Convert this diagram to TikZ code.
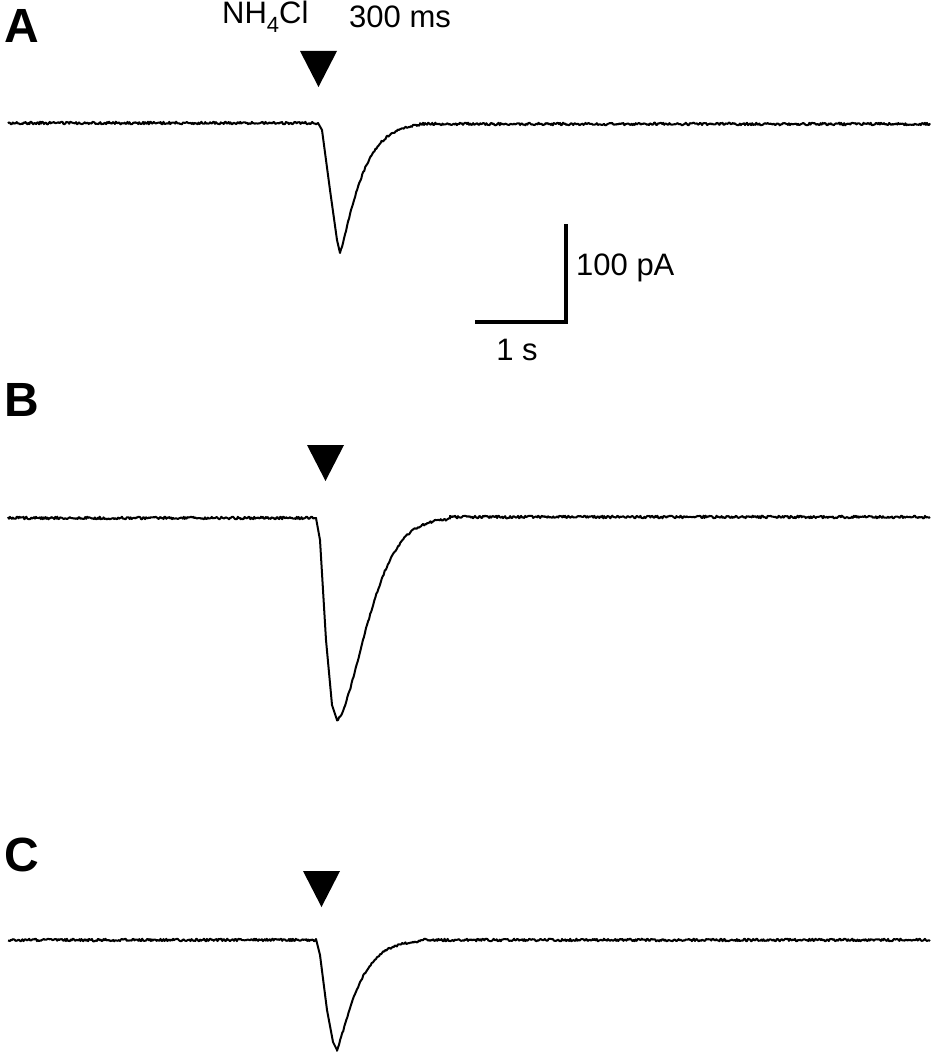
\documentclass[tikz,border=0pt]{standalone}
\usepackage{fontspec}
\setmainfont{Liberation Sans}
\begin{document}
\begin{tikzpicture}[x=1pt,y=-1pt,
  trace/.style={line width=2pt,line join=round},
  lab/.style={font=\bfseries\fontsize{48}{48}\selectfont,anchor=west,inner sep=0},
  txt/.style={font=\fontsize{31}{31}\selectfont,inner sep=0},
  tri/.style={fill=black}]
\useasboundingbox (0,0) rectangle (935,1057);
\pgfmathsetseed{7}
% Trace A
\draw[trace] plot[domain=8:318,samples=320] (\x,{123+1.3*rand})
  -- (322,130) -- (330,190) -- (337,240) -- (340,253)
  -- plot[domain=340:420,samples=80] (\x,{123+130*exp(-((\x-340)/24)^1.2)+1*rand})
  -- plot[domain=420:930,samples=500] (\x,{124+1.3*rand});
% Trace B
\draw[trace] plot[domain=8:316,samples=320] (\x,{518+1.3*rand})
  -- (320,540) -- (326,640) -- (332,705) -- (337,720)
  -- plot[domain=337:450,samples=110] (\x,{518+202*exp(-((\x-337)/40)^1.6)+1.2*rand})
  -- plot[domain=450:930,samples=480] (\x,{517+1.3*rand});
% Trace C
\draw[trace] plot[domain=8:316,samples=320] (\x,{940+1.3*rand})
  -- (320,955) -- (327,1010) -- (333,1042) -- (337,1050)
  -- plot[domain=337:420,samples=80] (\x,{940+110*exp(-((\x-337)/24)^1.2)+1*rand})
  -- plot[domain=420:930,samples=500] (\x,{940+1.3*rand});
% triangles
\fill[tri] (300,51) -- (337,51) -- (318.5,87) -- cycle;
\fill[tri] (307,445) -- (344,445) -- (325.5,481) -- cycle;
\fill[tri] (303,871) -- (340,871) -- (321.5,907) -- cycle;
% labels
\node[lab] (la) at (4,26) {A};
\node[lab] (lb) at (4,400) {B};
\node[lab] (lc) at (4,855) {C};
\node[txt,anchor=west] (nh) at (222,17) {NH\raisebox{-0.3em}{\fontsize{22}{22}\selectfont 4}Cl};
\node[txt,anchor=west] (ms) at (349,17) {300 ms};
% scale bar
\draw[line width=3.5pt] (475,322) -- (566,322) -- (566,224);
\node[txt,anchor=west] (pa) at (576,268) {100 pA};
\node[txt] (s1) at (517,350) {1 s};
\end{tikzpicture}
\end{document}
